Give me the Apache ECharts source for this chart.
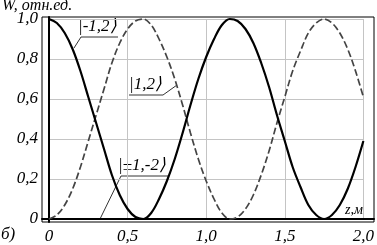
<!DOCTYPE html>
<html><head><meta charset="utf-8">
<script src="https://cdn.jsdelivr.net/npm/echarts@6/dist/echarts.min.js"></script>
<style>html,body{margin:0;padding:0;background:#fff}#c{width:377px;height:245px}</style>
</head><body><div id="c"></div>
<script>
const zValues = [0,0.05,0.1,0.15,0.2,0.25,0.3,0.35,0.4,0.45,0.5,0.55,0.6,0.65,0.7,0.75,0.8,0.85,0.9,0.95,1.0,1.05,1.1,1.15,1.2,1.25,1.3,1.35,1.4,1.45,1.5,1.55,1.6,1.65,1.7,1.75,1.8,1.85,1.9,1.95,2.0];
const wMinus12 = [1.00,0.98,0.93,0.85,0.74,0.61,0.48,0.35,0.22,0.12,0.05,0.01,0.00,0.03,0.10,0.19,0.30,0.43,0.57,0.70,0.81,0.90,0.97,1.00,0.99,0.95,0.88,0.78,0.66,0.52,0.39,0.26,0.16,0.07,0.02,0.00,0.02,0.07,0.15,0.26,0.39];
const wPlus12 = [0.00,0.02,0.07,0.15,0.26,0.39,0.52,0.65,0.78,0.88,0.95,0.99,1.00,0.97,0.90,0.81,0.70,0.57,0.43,0.30,0.19,0.10,0.03,0.00,0.01,0.05,0.12,0.22,0.34,0.48,0.61,0.74,0.84,0.93,0.98,1.00,0.98,0.93,0.85,0.74,0.61];
const zPm1m2 = [0, 2.0];
const wPm1m2 = [0, 0];
const xTicks = ['0','0,5','1,0','1,5','2,0'];
const yTicks = ['0','0,2','0,4','0,6','0,8','1,0'];
const labels = ['|-1,2\u27E9','|1,2\u27E9','|\u00B11,-2\u27E9'];

const font = 'Liberation Serif';
const pairs = (xs, ys) => xs.map((x, i) => [x, ys[i]]);
const fmtX = v => { const i = Math.round(v/0.5); return xTicks[i] !== undefined ? xTicks[i] : ''; };
const fmtY = v => { const i = Math.round(v/0.2); return yTicks[i] !== undefined ? yTicks[i] : ''; };

const chart = echarts.init(document.getElementById('c'), null, {renderer:'canvas'});
const txt = {fontFamily: font, fontStyle: 'italic', color: '#000'};
chart.setOption({
  animation: false,
  grid: [
    {left: 42, right: 3, top: 17, bottom: 23, show: true, borderColor: '#000', borderWidth: 1, backgroundColor: 'transparent'},
    {left: 49, width: 319, top: 19, height: 200}
  ],
  xAxis: [
    {gridIndex: 0, type: 'value', min: -0.04, max: 2.04, axisLabel: {show: false}, splitLine: {show: false}, axisTick: {show: false}, axisLine: {show: true, lineStyle: {color: '#000', width: 2}}},
    {gridIndex: 1, type: 'value', min: 0, max: 2, interval: 0.5, axisLine: {show: false}, axisTick: {show: false},
     splitLine: {show: true, lineStyle: {color: '#c4c4c4', width: 1}},
     axisLabel: Object.assign({fontSize: 17, margin: 9, formatter: fmtX}, txt)}
  ],
  yAxis: [
    {gridIndex: 0, type: 'value', min: -0.015, max: 1.01, axisLabel: {show: false}, splitLine: {show: false}, axisTick: {show: false}, axisLine: {show: true, lineStyle: {color: '#000', width: 2}}},
    {gridIndex: 1, type: 'value', min: 0, max: 1, interval: 0.2, axisLine: {show: false}, axisTick: {show: false},
     splitLine: {show: true, lineStyle: {color: '#c4c4c4', width: 1}},
     axisLabel: Object.assign({fontSize: 17, margin: 11, formatter: fmtY}, txt)}
  ],
  series: [
    {type: 'line', xAxisIndex: 1, yAxisIndex: 1, data: pairs(zPm1m2, wPm1m2), symbol: 'none', clip: false,
     lineStyle: {color: '#000', width: 2, type: [2, 2]}},
    {type: 'line', xAxisIndex: 1, yAxisIndex: 1, data: pairs(zValues, wPlus12), symbol: 'none', smooth: 0.35, clip: false,
     lineStyle: {color: '#444', width: 1.7, type: [7, 3]}},
    {type: 'line', xAxisIndex: 1, yAxisIndex: 1, data: pairs(zValues, wMinus12), symbol: 'none', smooth: 0.35, clip: false,
     lineStyle: {color: '#000', width: 2.2}}
  ],
  graphic: [
    {type: 'text', left: 2, top: -2, style: {text: 'W, отн.ед.', fontSize: 16, fontFamily: font, fontStyle: 'italic', fill: '#000'}},
    {type: 'text', left: 1, top: 226, style: {text: 'б)', fontSize: 17, fontFamily: font, fontStyle: 'italic', fill: '#000'}},
    {type: 'text', left: 345, top: 203, style: {text: 'z,м', fontSize: 14, fontFamily: font, fontStyle: 'italic', fill: '#000'}},
    {type: 'text', left: 78, top: 18, style: {text: labels[0], fontSize: 17, fontFamily: font, fontStyle: 'italic', fill: '#000'}},
    {type: 'polyline', shape: {points: [[118, 37], [81, 37], [74, 48]]}, style: {stroke: '#333', lineWidth: 1, fill: null}},
    {type: 'text', left: 129, top: 76, style: {text: labels[1], fontSize: 17, fontFamily: font, fontStyle: 'italic', fill: '#000'}},
    {type: 'polyline', shape: {points: [[129, 95], [163, 95], [177, 85]]}, style: {stroke: '#333', lineWidth: 1, fill: null}},
    {type: 'text', left: 118, top: 157, style: {text: labels[2], fontSize: 17, fontFamily: font, fontStyle: 'italic', fill: '#000'}},
    {type: 'polyline', shape: {points: [[168, 176], [121, 176], [100, 219]]}, style: {stroke: '#333', lineWidth: 1, fill: null}}
  ]
});
</script></body></html>
